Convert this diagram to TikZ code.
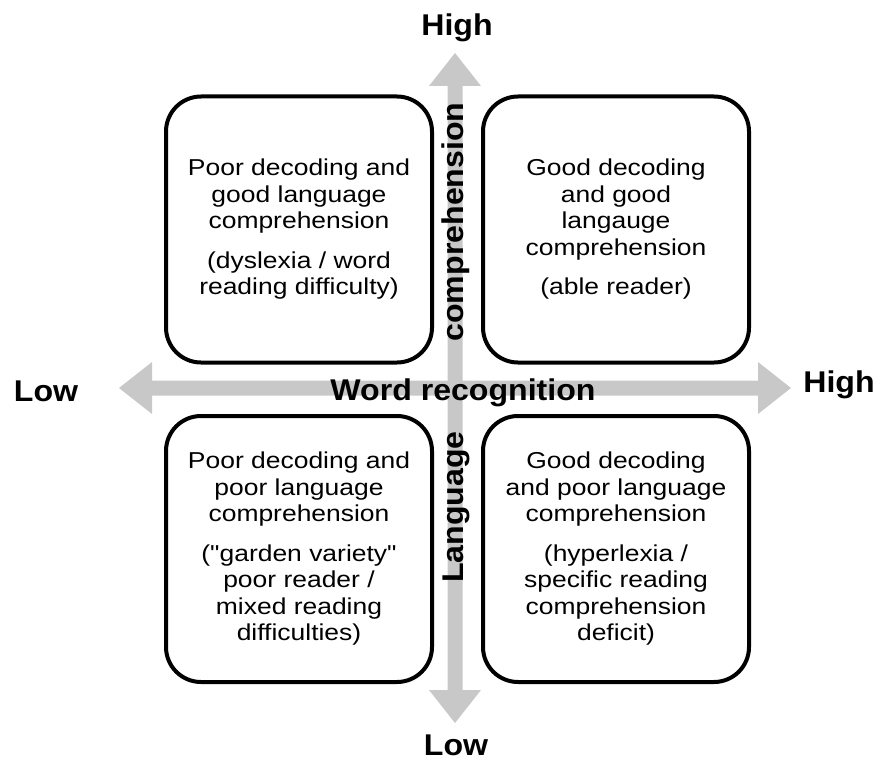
\documentclass[tikz,border=0pt]{standalone}
\usepackage{fontspec}
\usetikzlibrary{calc}
\newfontfamily\bodyfont[FakeStretch=1.15]{Liberation Sans}
\newfontfamily\axisfont[FakeStretch=1.07]{Liberation Sans}
\definecolor{axisgray}{RGB}{200,200,200}
\tikzset{
  quad/.style={draw=black, line width=4pt, rounded corners=35pt, fill=white,
    minimum width=266pt, minimum height=266pt, align=center, inner sep=0pt,
    font=\bodyfont\fontsize{23}{26.5}\selectfont},
  axislabel/.style={inner sep=0pt, font=\axisfont\bfseries\fontsize{30}{34}\selectfont},
  axisarrow/.style={fill=axisgray, draw=none}
}
\begin{document}
\begin{tikzpicture}[x=1pt, y=-1pt]
  \useasboundingbox (0,0) rectangle (877,762);

  % axis geometry: shaft half-width 7.5, head half-width 26, head length 33
  \coordinate (vtop) at (455,53);
  \coordinate (vbot) at (455,723);
  \coordinate (hleft) at (119,388);
  \coordinate (hright) at (791,388);

  % vertical double arrow (language comprehension)
  \fill[axisarrow] (vtop) -- ++(26,33) -- ++(-18.5,0) |- ($(vbot)+(7.5,-33)$)
    -- ++(18.5,0) -- (vbot) -- ++(-26,-33) -- ++(18.5,0) |- ($(vtop)+(-7.5,33)$)
    -- ++(-18.5,0) -- cycle;
  % horizontal double arrow (word recognition)
  \fill[axisarrow] (hleft) -- ++(33,-26) -- ++(0,18.5) -| ($(hright)+(-33,-7.5)$)
    -- ++(0,-18.5) -- (hright) -- ++(-33,26) -- ++(0,-18.5) -| ($(hleft)+(33,7.5)$)
    -- ++(0,18.5) -- cycle;

  % quadrants
  \node[quad] (tl) at (299,229.5)
    {Poor decoding and\\ good language\\ comprehension\\[13pt] (dyslexia / word\\ reading difficulty)};
  \node[quad] (tr) at (616,229.5)
    {Good decoding\\ and good\\ langauge\\ comprehension\\[13pt] (able reader)};
  \node[quad] (bl) at (299,549)
    {Poor decoding and\\ poor language\\ comprehension\\[13pt] ("garden variety"\\ poor reader /\\ mixed reading\\ difficulties)};
  \node[quad] (br) at (616,549)
    {Good decoding\\ and poor language\\ comprehension\\[13pt] (hyperlexia /\\ specific reading\\ comprehension\\ deficit)};

  % axis labels
  \node[axislabel, anchor=base] (ytop) at (457,36) {High};
  \node[axislabel, anchor=base] (ybot) at (456,755) {Low};
  \node[axislabel, anchor=base] (xleft) at (46,401) {Low};
  \node[axislabel, anchor=base] (xright) at (839,392) {High};
  \node[axislabel, anchor=base] (xname) at (463,400) {Word recognition};
  \node[axislabel, rotate=90, anchor=base] (yname1) at (463,222) {comprehension};
  \node[axislabel, rotate=90, anchor=base] (yname2) at (463,507) {Language};
\end{tikzpicture}
\end{document}
